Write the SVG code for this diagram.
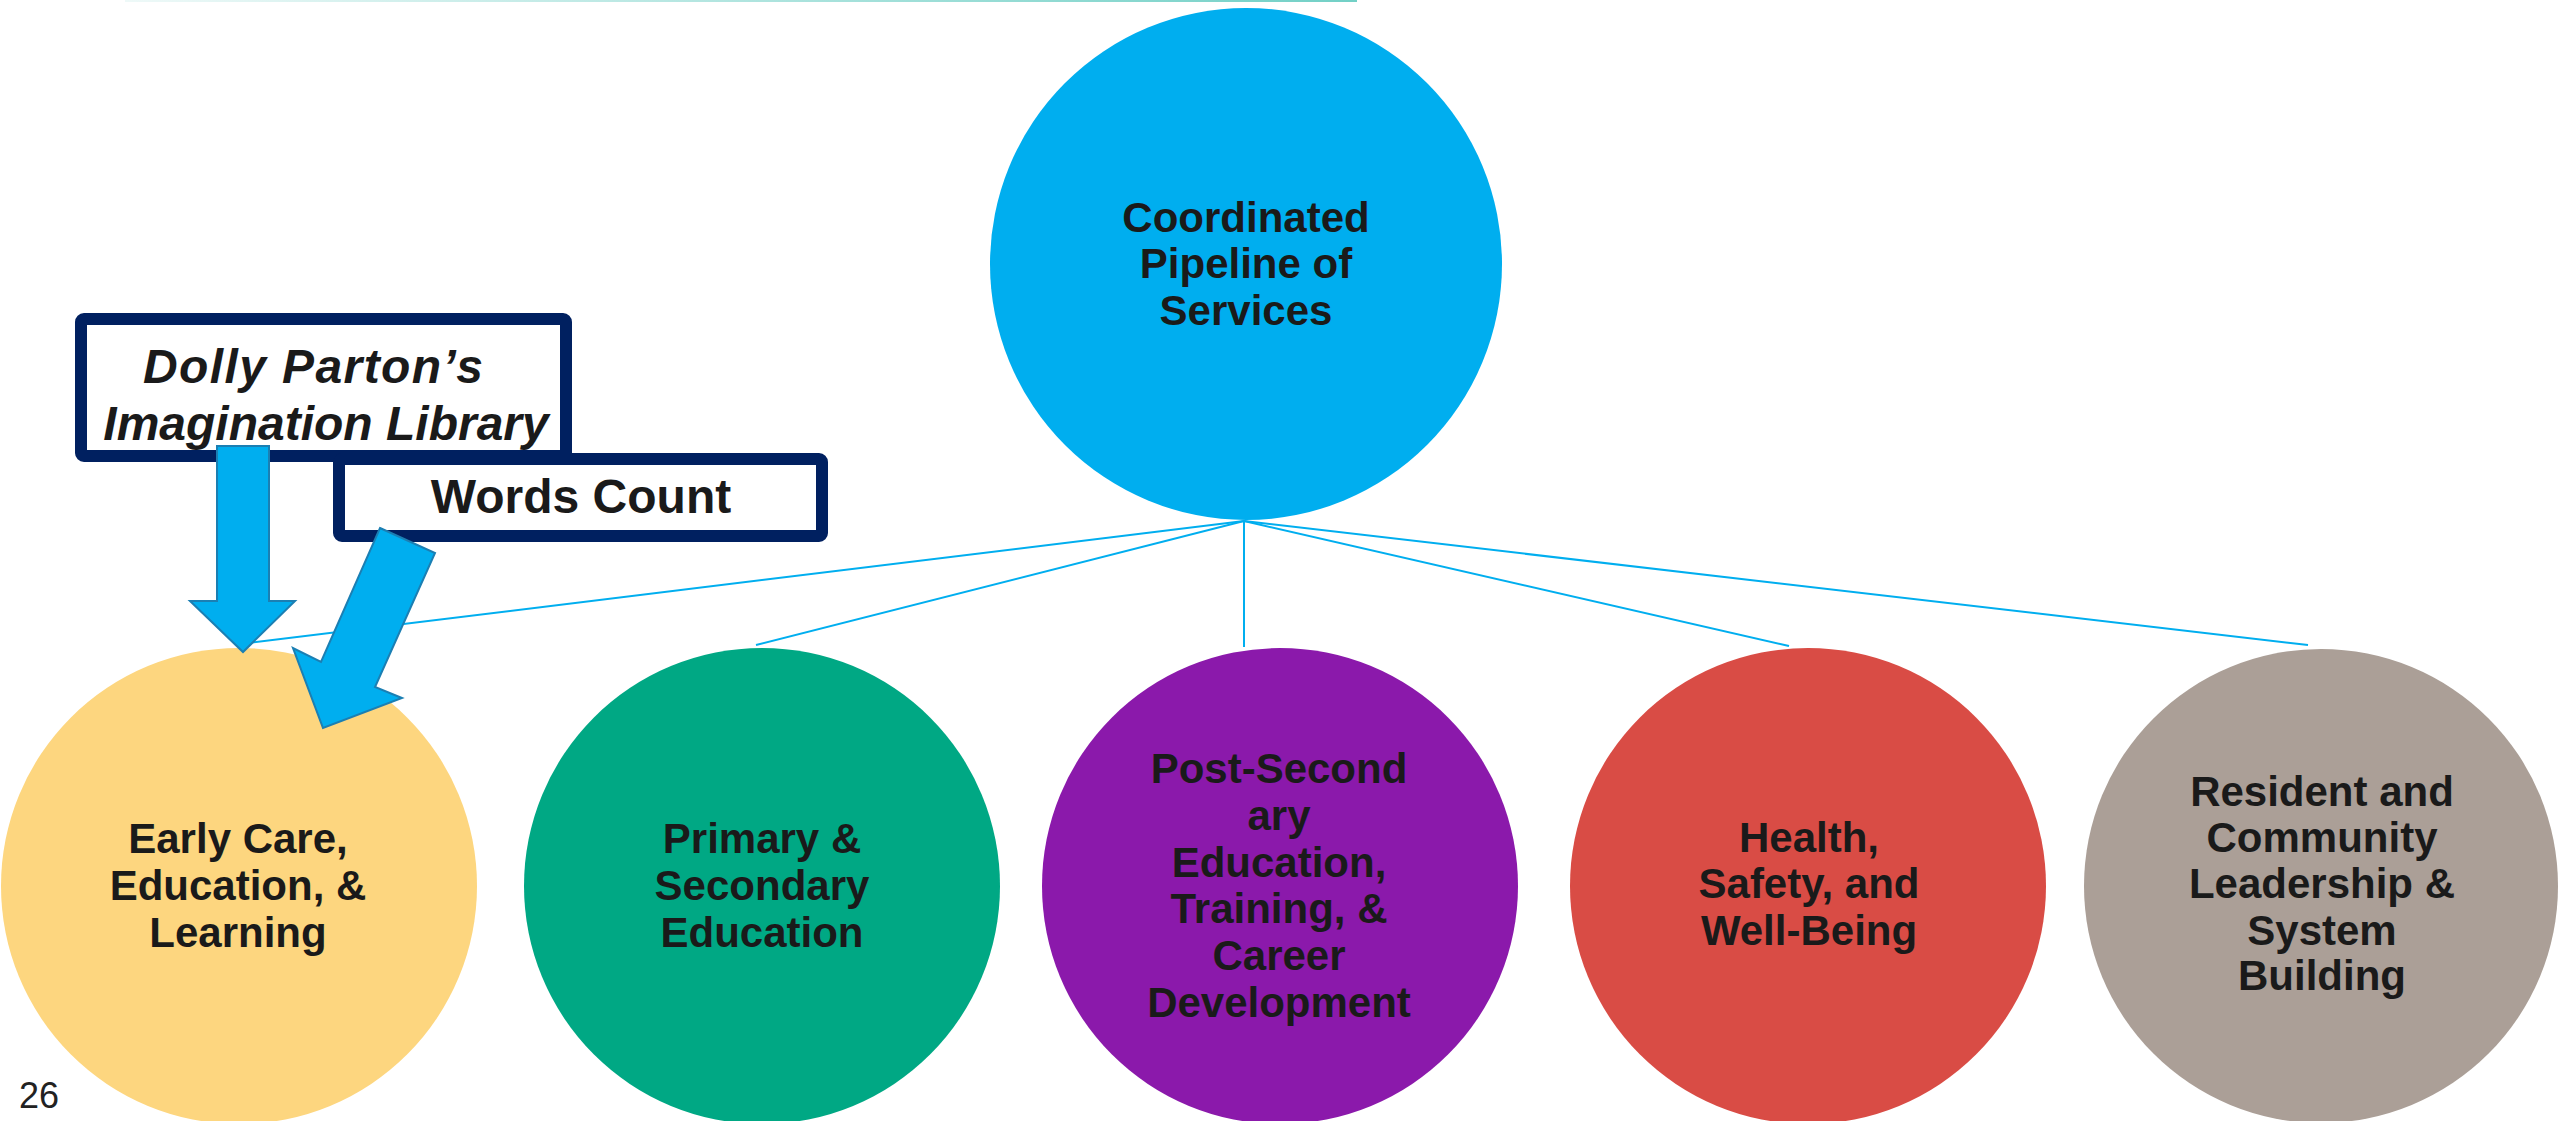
<svg xmlns="http://www.w3.org/2000/svg" width="2560" height="1121" viewBox="0 0 2560 1121">
<defs>
<linearGradient id="topline" x1="0" y1="0" x2="1" y2="0">
<stop offset="0" stop-color="#eef9f8"/>
<stop offset="1" stop-color="#72d0c6"/>
</linearGradient>
<style>
.lbl{font-family:"Liberation Sans",Arial,sans-serif;font-weight:bold;font-size:42px;fill:#1a1a1a;text-anchor:middle}
.box{fill:#ffffff;stroke:#002060;stroke-width:12}
.btxt{font-family:"Liberation Sans",Arial,sans-serif;font-weight:bold;font-size:48px;fill:#1a1a1a;text-anchor:middle}
.arrow{fill:#00AEEF;stroke:#1b7fb3;stroke-width:2;stroke-linejoin:miter}
.conn{stroke:#00AEEF;stroke-width:2;fill:none}
</style>
</defs>
<rect width="2560" height="1121" fill="#ffffff"/>
<rect x="125" y="0" width="1232" height="2" fill="url(#topline)"/>

<g id="connectors">
<line class="conn" x1="1244" y1="521" x2="248" y2="643"/>
<line class="conn" x1="1244" y1="521" x2="756" y2="645"/>
<line class="conn" x1="1244" y1="521" x2="1244" y2="647"/>
<line class="conn" x1="1244" y1="521" x2="1789" y2="646"/>
<line class="conn" x1="1244" y1="521" x2="2308" y2="645"/>
</g>

<g id="node-pipeline">
<circle cx="1246" cy="264" r="256" fill="#00AEEF"/>
<text class="lbl" x="1246" y="232">Coordinated</text>
<text class="lbl" x="1246" y="278">Pipeline of</text>
<text class="lbl" x="1246" y="325">Services</text>
</g>

<g id="node-early">
<circle cx="239" cy="886" r="238" fill="#FDD67F"/>
<text class="lbl" x="238" y="853">Early Care,</text>
<text class="lbl" x="238" y="900">Education, &amp;</text>
<text class="lbl" x="238" y="947">Learning</text>
</g>

<g id="node-primary">
<circle cx="762" cy="886" r="238" fill="#00A884"/>
<text class="lbl" x="762" y="853">Primary &amp;</text>
<text class="lbl" x="762" y="900">Secondary</text>
<text class="lbl" x="762" y="947">Education</text>
</g>

<g id="node-post">
<circle cx="1280" cy="886" r="238" fill="#8B19AB"/>
<text class="lbl" x="1279" y="783">Post-Second</text>
<text class="lbl" x="1279" y="830">ary</text>
<text class="lbl" x="1279" y="877">Education,</text>
<text class="lbl" x="1279" y="923">Training, &amp;</text>
<text class="lbl" x="1279" y="970">Career</text>
<text class="lbl" x="1279" y="1017">Development</text>
</g>

<g id="node-health">
<circle cx="1808" cy="886" r="238" fill="#D94C45"/>
<text class="lbl" x="1809" y="852">Health,</text>
<text class="lbl" x="1809" y="898">Safety, and</text>
<text class="lbl" x="1809" y="945">Well-Being</text>
</g>

<g id="node-resident">
<circle cx="2321" cy="886" r="237" fill="#AB9F97"/>
<text class="lbl" x="2322" y="806">Resident and</text>
<text class="lbl" x="2322" y="852">Community</text>
<text class="lbl" x="2322" y="898">Leadership &amp;</text>
<text class="lbl" x="2322" y="945">System</text>
<text class="lbl" x="2322" y="990">Building</text>
</g>

<g id="node-dolly">
<rect class="box" x="81" y="319" width="485" height="137" rx="3"/>
<text class="btxt" x="313" y="383" font-style="italic" textLength="340" lengthAdjust="spacing">Dolly Parton’s</text>
<text class="btxt" x="326" y="440" font-style="italic">Imagination Library</text>
</g>

<g id="arrow-dolly">
<polygon class="arrow" points="217,446 269,446 269,601 295,601 243,652 190,601 217,601"/>
</g>

<g id="node-words">
<rect class="box" x="339" y="459" width="483" height="77" rx="3"/>
<text class="btxt" x="581" y="513">Words Count</text>
</g>

<g id="arrow-words">
<polygon class="arrow" points="380,528 435,553 375,687 402,698 323,728 293,648 321,662"/>
</g>

<text x="19" y="1108" font-family="'Liberation Sans',Arial,sans-serif" font-size="36" fill="#222222">26</text>
</svg>
